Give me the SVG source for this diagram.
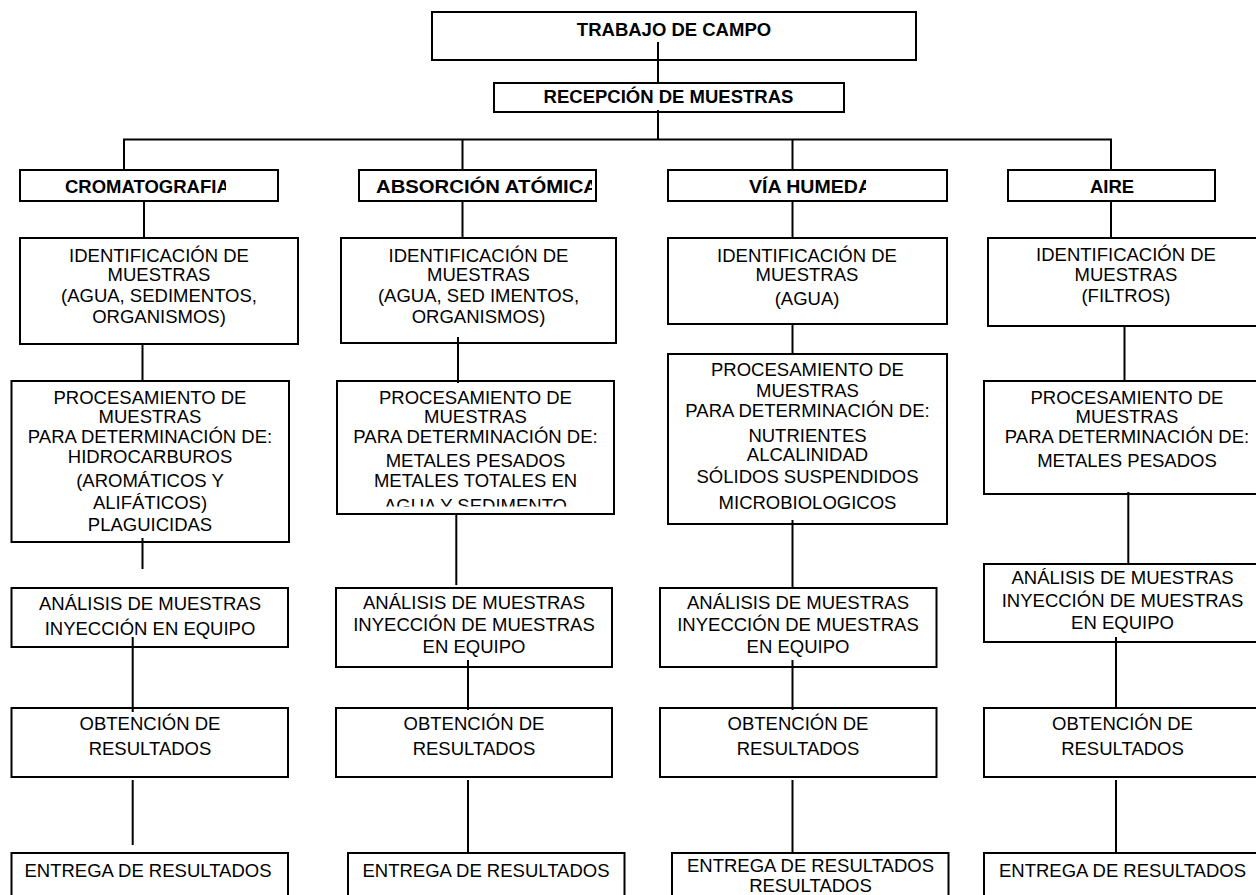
<svg xmlns="http://www.w3.org/2000/svg" width="1256" height="895" viewBox="0 0 1256 895">
  <style>
    .box { fill: #fff; stroke: #000; stroke-width: 2; }
    .t { font-family: "Liberation Sans", Arial, sans-serif; font-size: 18.5px; fill: #000; text-anchor: middle; }
    .b { font-weight: bold; }
    .s { text-anchor: start; }
    #connectors line { stroke: #000; stroke-width: 2; }
  </style>
  <defs>
    <clipPath id="clip-crom"><rect x="0" y="160" width="226" height="50"/></clipPath>
    <clipPath id="clip-abs"><rect x="340" y="160" width="252" height="50"/></clipPath>
    <clipPath id="clip-via"><rect x="660" y="160" width="206" height="50"/></clipPath>
    <clipPath id="clip-proc2"><rect x="330" y="380" width="300" height="126.5"/></clipPath>
  </defs>
  <rect width="1256" height="895" fill="#fff"/>

  <!-- top of the chart -->
  <g id="trabajo-campo">
    <rect class="box" x="432" y="12" width="484" height="48"/>
    <text class="t b" x="674" y="36">TRABAJO DE CAMPO</text>
  </g>
  <g id="recepcion-muestras">
    <rect class="box" x="494" y="83" width="350" height="29"/>
    <text class="t b" x="668.5" y="103">RECEPCIÓN DE MUESTRAS</text>
  </g>

  <!-- area headers -->
  <g id="cromatografia">
    <rect class="box" x="20" y="170" width="258" height="31"/>
    <text class="t b s" x="65" y="193" clip-path="url(#clip-crom)">CROMATOGRAFIA</text>
  </g>
  <g id="absorcion-atomica">
    <rect class="box" x="359" y="170" width="237" height="31"/>
    <text class="t b s" x="376" y="193" textLength="222" lengthAdjust="spacingAndGlyphs" clip-path="url(#clip-abs)">ABSORCIÓN ATÓMICA</text>
  </g>
  <g id="via-humeda">
    <rect class="box" x="668" y="170" width="279" height="31"/>
    <text class="t b s" x="749" y="193" textLength="123" lengthAdjust="spacingAndGlyphs" clip-path="url(#clip-via)">VÍA HUMEDA</text>
  </g>
  <g id="aire">
    <rect class="box" x="1008" y="170" width="207" height="31"/>
    <text class="t b" x="1112" y="193">AIRE</text>
  </g>

  <!-- sample identification -->
  <g id="ident-1">
    <rect class="box" x="20" y="238" width="278" height="106"/>
    <text class="t" x="159" y="262">IDENTIFICACIÓN DE</text>
    <text class="t" x="159" y="281">MUESTRAS</text>
    <text class="t" x="159" y="302">(AGUA, SEDIMENTOS,</text>
    <text class="t" x="159" y="323">ORGANISMOS)</text>
  </g>
  <g id="ident-2">
    <rect class="box" x="341" y="238" width="275" height="105"/>
    <text class="t" x="478.5" y="262">IDENTIFICACIÓN DE</text>
    <text class="t" x="478.5" y="281">MUESTRAS</text>
    <text class="t" x="478.5" y="302">(AGUA, SED IMENTOS,</text>
    <text class="t" x="478.5" y="323">ORGANISMOS)</text>
  </g>
  <g id="ident-3">
    <rect class="box" x="668" y="238" width="279" height="86"/>
    <text class="t" x="807" y="262">IDENTIFICACIÓN DE</text>
    <text class="t" x="807" y="281">MUESTRAS</text>
    <text class="t" x="807" y="305">(AGUA)</text>
  </g>
  <g id="ident-4">
    <rect class="box" x="988" y="238" width="276" height="88"/>
    <text class="t" x="1126" y="261">IDENTIFICACIÓN DE</text>
    <text class="t" x="1126" y="281">MUESTRAS</text>
    <text class="t" x="1126" y="302">(FILTROS)</text>
  </g>

  <!-- sample processing -->
  <g id="proc-1">
    <rect class="box" x="11.5" y="381" width="277.5" height="161"/>
    <text class="t" x="150" y="404">PROCESAMIENTO DE</text>
    <text class="t" x="150" y="423">MUESTRAS</text>
    <text class="t" x="150" y="443">PARA DETERMINACIÓN DE:</text>
    <text class="t" x="150" y="463">HIDROCARBUROS</text>
    <text class="t" x="150" y="487">(AROMÁTICOS Y</text>
    <text class="t" x="150" y="509">ALIFÁTICOS)</text>
    <text class="t" x="150" y="531">PLAGUICIDAS</text>
  </g>
  <g id="proc-2">
    <rect class="box" x="337" y="381" width="277" height="133"/>
    <g clip-path="url(#clip-proc2)">
      <text class="t" x="475.5" y="404">PROCESAMIENTO DE</text>
      <text class="t" x="475.5" y="423">MUESTRAS</text>
      <text class="t" x="475.5" y="443">PARA DETERMINACIÓN DE:</text>
      <text class="t" x="475.5" y="467">METALES PESADOS</text>
      <text class="t" x="475.5" y="487">METALES TOTALES EN</text>
      <text class="t" x="475.5" y="511.5">AGUA Y SEDIMENTO</text>
    </g>
  </g>
  <g id="proc-3">
    <rect class="box" x="668" y="354" width="279" height="170"/>
    <text class="t" x="807.5" y="376">PROCESAMIENTO DE</text>
    <text class="t" x="807.5" y="396.5">MUESTRAS</text>
    <text class="t" x="807.5" y="416.5">PARA DETERMINACIÓN DE:</text>
    <text class="t" x="807.5" y="441.5">NUTRIENTES</text>
    <text class="t" x="807.5" y="460.5">ALCALINIDAD</text>
    <text class="t" x="807.5" y="482.5">SÓLIDOS SUSPENDIDOS</text>
    <text class="t" x="807.5" y="509">MICROBIOLOGICOS</text>
  </g>
  <g id="proc-4">
    <rect class="box" x="984" y="381" width="286" height="113"/>
    <text class="t" x="1127" y="403.5">PROCESAMIENTO DE</text>
    <text class="t" x="1127" y="423">MUESTRAS</text>
    <text class="t" x="1127" y="443">PARA DETERMINACIÓN DE:</text>
    <text class="t" x="1127" y="467">METALES PESADOS</text>
  </g>

  <!-- sample analysis -->
  <g id="analisis-1">
    <rect class="box" x="11.5" y="588" width="276.5" height="59"/>
    <text class="t" x="150" y="610">ANÁLISIS DE MUESTRAS</text>
    <text class="t" x="150" y="635">INYECCIÓN EN EQUIPO</text>
  </g>
  <g id="analisis-2">
    <rect class="box" x="336" y="588" width="276" height="79"/>
    <text class="t" x="474" y="609">ANÁLISIS DE MUESTRAS</text>
    <text class="t" x="474" y="631">INYECCIÓN DE MUESTRAS</text>
    <text class="t" x="474" y="653">EN EQUIPO</text>
  </g>
  <g id="analisis-3">
    <rect class="box" x="660" y="588" width="276.5" height="79"/>
    <text class="t" x="798" y="609">ANÁLISIS DE MUESTRAS</text>
    <text class="t" x="798" y="631">INYECCIÓN DE MUESTRAS</text>
    <text class="t" x="798" y="653">EN EQUIPO</text>
  </g>
  <g id="analisis-4">
    <rect class="box" x="984" y="564" width="277" height="78"/>
    <text class="t" x="1122.5" y="584">ANÁLISIS DE MUESTRAS</text>
    <text class="t" x="1122.5" y="607">INYECCIÓN DE MUESTRAS</text>
    <text class="t" x="1122.5" y="629">EN EQUIPO</text>
  </g>

  <!-- results -->
  <g id="obtencion-1">
    <rect class="box" x="11.5" y="708" width="276.5" height="69"/>
    <text class="t" x="150" y="730">OBTENCIÓN DE</text>
    <text class="t" x="150" y="755">RESULTADOS</text>
  </g>
  <g id="obtencion-2">
    <rect class="box" x="336" y="708" width="276" height="69"/>
    <text class="t" x="474" y="730">OBTENCIÓN DE</text>
    <text class="t" x="474" y="755">RESULTADOS</text>
  </g>
  <g id="obtencion-3">
    <rect class="box" x="660" y="708" width="276.5" height="69"/>
    <text class="t" x="798" y="730">OBTENCIÓN DE</text>
    <text class="t" x="798" y="755">RESULTADOS</text>
  </g>
  <g id="obtencion-4">
    <rect class="box" x="984" y="708" width="277" height="69"/>
    <text class="t" x="1122.5" y="730">OBTENCIÓN DE</text>
    <text class="t" x="1122.5" y="755">RESULTADOS</text>
  </g>

  <!-- delivery -->
  <g id="entrega-1">
    <rect class="box" x="11.5" y="853" width="276.5" height="60"/>
    <text class="t" x="148" y="877">ENTREGA DE RESULTADOS</text>
  </g>
  <g id="entrega-2">
    <rect class="box" x="348" y="853" width="276.5" height="60"/>
    <text class="t" x="486" y="877">ENTREGA DE RESULTADOS</text>
  </g>
  <g id="entrega-3">
    <rect class="box" x="672" y="853" width="276.5" height="60"/>
    <text class="t" x="810.5" y="872">ENTREGA DE RESULTADOS</text>
    <text class="t" x="810.5" y="892">RESULTADOS</text>
  </g>
  <g id="entrega-4">
    <rect class="box" x="984" y="853" width="277" height="60"/>
    <text class="t" x="1122.5" y="877">ENTREGA DE RESULTADOS</text>
  </g>

  <!-- connectors, drawn over the boxes -->
  <g id="connectors">
    <line x1="658" y1="42" x2="658" y2="83"/>
    <line x1="658" y1="110" x2="658" y2="139.5"/>
    <line x1="123" y1="139.5" x2="1112" y2="139.5"/>
    <line x1="124" y1="139.5" x2="124" y2="170"/>
    <line x1="462.5" y1="139.5" x2="462.5" y2="170"/>
    <line x1="792.5" y1="139.5" x2="792.5" y2="170"/>
    <line x1="1111" y1="139.5" x2="1111" y2="170"/>

    <line x1="144" y1="201" x2="144" y2="238"/>
    <line x1="142.5" y1="344" x2="142.5" y2="381"/>
    <line x1="142.5" y1="538" x2="142.5" y2="569"/>
    <line x1="132.7" y1="637" x2="132.7" y2="712"/>
    <line x1="132.7" y1="780" x2="132.7" y2="845"/>

    <line x1="462.5" y1="201" x2="462.5" y2="238"/>
    <line x1="458" y1="337" x2="458" y2="383"/>
    <line x1="456.3" y1="515" x2="456.3" y2="585"/>
    <line x1="468" y1="660" x2="468" y2="710"/>
    <line x1="468" y1="780" x2="468" y2="853"/>

    <line x1="792.5" y1="201" x2="792.5" y2="238"/>
    <line x1="792.5" y1="324" x2="792.5" y2="354"/>
    <line x1="792.5" y1="520" x2="792.5" y2="588"/>
    <line x1="792.5" y1="660" x2="792.5" y2="710"/>
    <line x1="792.5" y1="780" x2="792.5" y2="853"/>

    <line x1="1111" y1="201" x2="1111" y2="238"/>
    <line x1="1124.5" y1="326" x2="1124.5" y2="381"/>
    <line x1="1128.3" y1="492" x2="1128.3" y2="564"/>
    <line x1="1116" y1="637" x2="1116" y2="708"/>
    <line x1="1116" y1="780" x2="1116" y2="853"/>
  </g>
</svg>
